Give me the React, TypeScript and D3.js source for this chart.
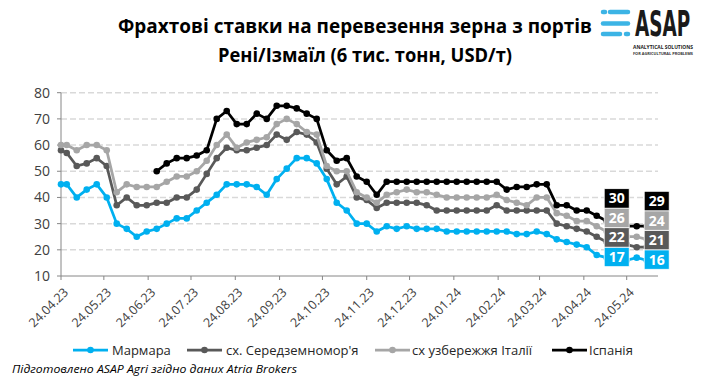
import React from "react";
import * as d3 from "d3";

// weekly freight data, first point 24.04.23 then Fridays
const dates = [
  "2023-04-24", "2023-04-28", "2023-05-05", "2023-05-12", "2023-05-19", "2023-05-26",
  "2023-06-02", "2023-06-09", "2023-06-16", "2023-06-23", "2023-06-30",
  "2023-07-07", "2023-07-14", "2023-07-21", "2023-07-28",
  "2023-08-04", "2023-08-11", "2023-08-18", "2023-08-25",
  "2023-09-01", "2023-09-08", "2023-09-15", "2023-09-22", "2023-09-29",
  "2023-10-06", "2023-10-13", "2023-10-20", "2023-10-27",
  "2023-11-03", "2023-11-10", "2023-11-17", "2023-11-24",
  "2023-12-01", "2023-12-08", "2023-12-15", "2023-12-22", "2023-12-29",
  "2024-01-05", "2024-01-12", "2024-01-19", "2024-01-26",
  "2024-02-02", "2024-02-09", "2024-02-16", "2024-02-23",
  "2024-03-01", "2024-03-08", "2024-03-15", "2024-03-22", "2024-03-29",
  "2024-04-05", "2024-04-12", "2024-04-19", "2024-04-26",
  "2024-05-03", "2024-05-10", "2024-05-17", "2024-05-24", "2024-05-31",
  "2024-06-07", "2024-06-14",
];

const marmara = [
  45, 45, 40, 43, 45, 40, 30, 28, 25, 27,
  28, 30, 32, 32, 35, 38, 41, 45, 45, 45,
  44, 41, 47, 51, 55, 55, 53, 47, 38, 35,
  30, 30, 27, 29, 28, 29, 28, 28, 28, 27,
  27, 27, 27, 27, 27, 27, 26, 26, 27, 26,
  24, 23, 22, 21, 18, 17, 17, 16, 17, 16, 16,
];

const eastMed = [
  58, 57, 52, 53, 55, 52, 37, 40, 37, 37,
  38, 38, 40, 40, 43, 49, 55, 59, 58, 58,
  59, 60, 64, 62, 65, 64, 61, 51, 45, 48,
  40, 39, 36, 38, 38, 38, 38, 37, 35, 35,
  35, 35, 35, 35, 37, 35, 35, 35, 35, 35,
  30, 29, 28, 27, 25, 23, 22, 22, 21, 21, 21,
];

const italy = [
  60, 60, 58, 60, 60, 58, 42, 45, 44, 44,
  44, 46, 48, 48, 50, 54, 60, 64, 59, 61,
  62, 63, 68, 70, 68, 65, 64, 52, 50, 50,
  42, 40, 38, 41, 42, 43, 42, 42, 41, 40,
  40, 40, 40, 40, 41, 39, 38, 37, 40, 40,
  34, 33, 31, 31, 29, 27, 26, 25, 25, 24, 24,
];

const spain = [
  null, null, null, null, null, null, null, null, null, null,
  50, 53, 55, 55, 56, 58, 70, 73, 68, 68,
  72, 70, 75, 75, 74, 72, 70, 58, 54, 55,
  48, 46, 41, 46, 46, 46, 46, 46, 46, 46,
  46, 46, 46, 46, 46, 43, 44, 44, 45, 45,
  37, 37, 35, 35, 33, 31, 30, 29, 29, 29, 29,
];

const seriesNames = ["Мармара", "сх. Середземномор'я", "сх узбережжя Італії", "Іспанія"];
const seriesColors = ["#00b0f0", "#595959", "#a6a6a6", "#000000"];
const seriesValues = [marmara, eastMed, italy, spain];

const yTicks = [10, 20, 30, 40, 50, 60, 70, 80];
const xTicks = [
  "2023-04-24", "2023-05-24", "2023-06-24", "2023-07-24", "2023-08-24", "2023-09-24",
  "2023-10-24", "2023-11-24", "2023-12-24", "2024-01-24", "2024-02-24", "2024-03-24",
  "2024-04-24", "2024-05-24",
];
// indexes of the points that carry the value boxes
const labelIdx = [56, 60];

const W = 705;
const H = 386;
const FONT = "'Open Sans', 'Noto Sans', sans-serif";

export default function App() {
  const parse = d3.timeParse("%Y-%m-%d");
  const fmt = d3.timeFormat("%d.%m.%y");
  const dd = dates.map((d) => parse(d) as Date);

  const x = d3.scaleTime().domain([dd[0], dd[dd.length - 1]]).range([61, 656.7]);
  const y = d3.scaleLinear().domain([10, 80]).range([276, 92.7]);

  const line = d3
    .line<number | null>()
    .defined((v) => v != null)
    .x((_, i) => x(dd[i]))
    .y((v) => y(v as number));

  const legendItems = [
    { x0: 73, tx: 112 },
    { x0: 187, tx: 226 },
    { x0: 375, tx: 412 },
    { x0: 552, tx: 589 },
  ];

  const boxH = 19.5;
  const boxW = 25;

  return (
    <svg
      width={W}
      height={H}
      style={{ position: "absolute", left: 0, top: 0, background: "#fff" }}
      fontFamily={FONT}
    >
      <rect width={W} height={H} fill="#fff" />

      {/* title */}
      <text x={355} y={33} textAnchor="middle" fontSize={19} fontWeight="bold" fill="#000"
        textLength={474} lengthAdjust="spacingAndGlyphs">
        Фрахтові ставки на перевезення зерна з портів
      </text>
      <text x={365} y={62} textAnchor="middle" fontSize={19} fontWeight="bold" fill="#000"
        textLength={294} lengthAdjust="spacingAndGlyphs">
        Рені/Ізмаїл (6 тис. тонн, USD/т)
      </text>

      {/* logo */}
      <g stroke="#3cb4e5" strokeWidth={4.5} strokeLinecap="round">
        <line x1={603} x2={605} y1={12} y2={12} />
        <line x1={610} x2={628} y1={12} y2={12} />
        <line x1={603} x2={628} y1={23.5} y2={23.5} />
        <line x1={603} x2={620} y1={34} y2={34} />
        <line x1={626} x2={628} y1={34} y2={34} />
      </g>
      <text transform="translate(635,35.5) scale(0.62,1.05)" fontSize={33} fontWeight="bold" fill="#1a1a1a"
        fontFamily="'DejaVu Sans Condensed', 'Liberation Sans Narrow', sans-serif">ASAP</text>
      <text x={633} y={48.5} fontSize={4.8} fontWeight="bold" fill="#222"
        textLength={60} lengthAdjust="spacingAndGlyphs">ANALYTICAL SOLUTIONS</text>
      <text x={633} y={54.5} fontSize={3.7} fontWeight="bold" fill="#333"
        textLength={60} lengthAdjust="spacingAndGlyphs">FOR AGRICULTURAL PROBLEMS</text>

      {/* grid */}
      {yTicks.filter((t) => t > 10).map((t) => (
        <line key={t} x1={61} x2={658} y1={y(t)} y2={y(t)} stroke="#d9d9d9"
          strokeWidth={1.5} strokeDasharray="6,3" />
      ))}

      {/* axes */}
      <line x1={61} x2={61} y1={y(80)} y2={y(10)} stroke="#868686" strokeWidth={1} />
      <line x1={61} x2={658} y1={y(10)} y2={y(10)} stroke="#868686" strokeWidth={1} />
      {yTicks.map((t) => (
        <g key={t}>
          <line x1={57} x2={61} y1={y(t)} y2={y(t)} stroke="#868686" />
          <text x={50} y={y(t)} dy="0.35em" textAnchor="end" fontSize={14} fill="#404040">
            {t}
          </text>
        </g>
      ))}
      {xTicks.map((t) => {
        const px = x(parse(t) as Date);
        return (
          <g key={t}>
            <line x1={px} x2={px} y1={276} y2={280} stroke="#868686" />
            <text transform={`translate(${px + 5},${290}) rotate(-45)`} textAnchor="end"
              dy="0.35em" fontSize={12.5} fill="#404040">
              {fmt(parse(t) as Date)}
            </text>
          </g>
        );
      })}

      {/* series */}
      {seriesValues.map((vals, s) => (
        <g key={s}>
          <path d={line(vals) || ""} fill="none" stroke={seriesColors[s]} strokeWidth={2.75}
            strokeLinejoin="round" />
          {vals.map((v, i) =>
            v == null ? null : (
              <circle key={i} cx={x(dd[i])} cy={y(v)} r={3.3} fill={seriesColors[s]} />
            )
          )}
        </g>
      ))}

      {/* value boxes */}
      {labelIdx.map((idx) => {
        const cx = x(dd[idx]);
        const bottom = y(marmara[idx]) + 9;
        return (
          <g key={idx}>
            {seriesValues.map((vals, s) => {
              const top = bottom - boxH * (s + 1);
              return (
                <g key={s}>
                  <rect x={cx - boxW / 2} y={top} width={boxW} height={boxH}
                    fill={seriesColors[s]} stroke="#fff" strokeWidth={0.8} />
                  <text x={cx} y={top + boxH / 2} dy="0.36em" textAnchor="middle"
                    fontSize={14} fontWeight="bold" fill="#fff">
                    {vals[idx]}
                  </text>
                </g>
              );
            })}
          </g>
        );
      })}

      {/* legend */}
      {legendItems.map((it, s) => (
        <g key={s}>
          <line x1={it.x0} x2={it.x0 + 35} y1={350} y2={350} stroke={seriesColors[s]}
            strokeWidth={2.75} />
          <circle cx={it.x0 + 17.5} cy={350} r={3.3} fill={seriesColors[s]} />
          <text x={it.tx} y={350} dy="0.35em" fontSize={13} fill="#262626">
            {seriesNames[s]}
          </text>
        </g>
      ))}

      <text x={12} y={373} fontSize={11.5} fontStyle="italic" fill="#000"
        textLength={285} lengthAdjust="spacingAndGlyphs">
        Підготовлено ASAP Agri згідно даних Atria Brokers
      </text>
    </svg>
  );
}
